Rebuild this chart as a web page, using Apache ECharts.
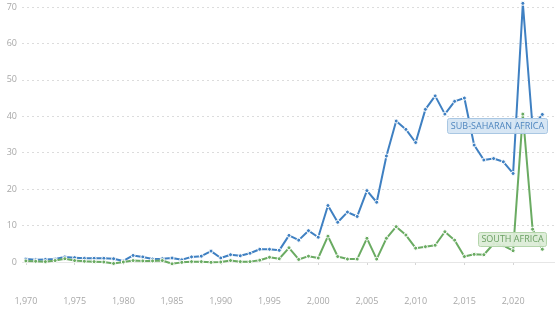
<!DOCTYPE html>
<html>
<head>
<meta charset="utf-8">
<script src="https://cdn.jsdelivr.net/npm/echarts@6/dist/echarts.min.js"></script>
<style>
html,body{margin:0;padding:0;background:#fff;}
#main{width:555px;height:323px;}
</style>
</head>
<body>
<div id="main"></div>
<script>
const years = [];
for (let y = 1970; y <= 2023; y++) years.push(y);

const subSaharanAfrica = [
  0.8, 0.6, 0.7, 0.8, 1.4, 1.2, 1.0, 1.0, 1.0, 0.9,
  0.3, 1.8, 1.4, 0.8, 0.9, 1.1, 0.6, 1.4, 1.6, 3.0,
  1.1, 2.0, 1.7, 2.4, 3.5, 3.5, 3.2, 7.3, 6.0, 8.6,
  6.8, 15.5, 10.9, 13.7, 12.5, 19.6, 16.4, 29.1, 38.7, 36.4,
  32.8, 41.9, 45.6, 40.6, 44.1, 45.0, 32.1, 28.0, 28.4, 27.5,
  24.3, 71.0, 37.0, 40.5
];
const southAfrica = [
  0.3, 0.2, 0.1, 0.4, 0.9, 0.4, 0.2, 0.1, 0.0, -0.4,
  0.0, 0.4, 0.3, 0.3, 0.4, -0.5, -0.1, 0.1, 0.1, -0.1,
  0.0, 0.4, 0.1, 0.1, 0.5, 1.3, 0.9, 3.9, 0.7, 1.6,
  1.1, 7.1, 1.5, 0.8, 0.8, 6.5, 0.8, 6.5, 9.7, 7.4,
  3.8, 4.2, 4.6, 8.3, 6.0, 1.5, 2.1, 2.0, 5.0, 4.5,
  3.1, 40.6, 9.0, 3.5
];
const xTickLabels = [1970, 1975, 1980, 1985, 1990, 1995, 2000, 2005, 2010, 2015, 2020];
const seriesNames = ['SUB-SAHARAN AFRICA', 'SOUTH AFRICA'];

const BLUE = '#3f80c2';
const GREEN = '#6aab62';

const chart = echarts.init(document.getElementById('main'), null, {renderer: 'canvas'});

function pairs(vals) { return vals.map((v, i) => [years[i], v]); }

const option = {
  animation: false,
  backgroundColor: '#fff',
  textStyle: {fontFamily: 'Open Sans'},
  grid: {left: 22, right: 0, top: 7, bottom: 61, containLabel: false},
  xAxis: {
    type: 'value',
    min: 1969.6,
    max: 2024.3,
    offset: 29,
    axisLine: {show: false},
    splitLine: {show: false},
    axisTick: {show: true, customValues: xTickLabels, length: 3, lineStyle: {color: '#d5d5d5'}},
    axisLabel: {
      customValues: xTickLabels,
      margin: 6,
      fontSize: 9,
      color: '#a8a8a8',
      fontFamily: 'Open Sans'
    }
  },
  yAxis: {
    type: 'value',
    min: 0,
    max: 70,
    interval: 10,
    axisLine: {show: false},
    axisTick: {show: false},
    axisLabel: {fontSize: 9, color: '#a8a8a8', margin: 5, fontFamily: 'Open Sans'},
    splitLine: {lineStyle: {color: '#dcdcdc', type: [2, 3], width: 1}}
  },
  series: [
    {
      name: seriesNames[0],
      type: 'line',
      data: pairs(subSaharanAfrica),
      clip: false,
      symbol: 'circle',
      symbolSize: 4,
      showSymbol: true,
      lineStyle: {color: BLUE, width: 2},
      itemStyle: {color: BLUE, borderColor: '#fff', borderWidth: 1},
      z: 3,
      markLine: {
        silent: true,
        symbol: 'none',
        label: {show: false},
        lineStyle: {color: '#e6e6e6', type: 'solid', width: 1},
        data: [{yAxis: 0}],
        z: 1
      }
    },
    {
      name: seriesNames[1],
      type: 'line',
      data: pairs(southAfrica),
      clip: false,
      symbol: 'circle',
      symbolSize: 4,
      showSymbol: true,
      lineStyle: {color: GREEN, width: 2},
      itemStyle: {color: GREEN, borderColor: '#fff', borderWidth: 1},
      z: 4
    }
  ],
  graphic: [
    {
      type: 'group', left: 447, top: 118, zlevel: 1, z: 100,
      children: [
        {type: 'rect', zlevel: 1, z: 100, shape: {x: 0, y: 0, width: 100, height: 15, r: 2},
         style: {fill: 'rgba(212,228,243,0.94)', stroke: '#a9c7e3', lineWidth: 1}},
        {type: 'text', zlevel: 1, z: 101, x: 50, y: 7.5,
         style: {text: seriesNames[0], fill: '#4f86bf', font: '9px "Open Sans"', align: 'center', verticalAlign: 'middle'}}
      ]
    },
    {
      type: 'group', left: 478, top: 232, zlevel: 1, z: 100,
      children: [
        {type: 'rect', zlevel: 1, z: 100, shape: {x: 0, y: 0, width: 68, height: 14, r: 2},
         style: {fill: 'rgba(220,236,215,0.94)', stroke: '#b5d5ac', lineWidth: 1}},
        {type: 'text', zlevel: 1, z: 101, x: 34, y: 7,
         style: {text: seriesNames[1], fill: '#6a9f62', font: '9px "Open Sans"', align: 'center', verticalAlign: 'middle'}}
      ]
    }
  ]
};
chart.setOption(option);
</script>
</body>
</html>
